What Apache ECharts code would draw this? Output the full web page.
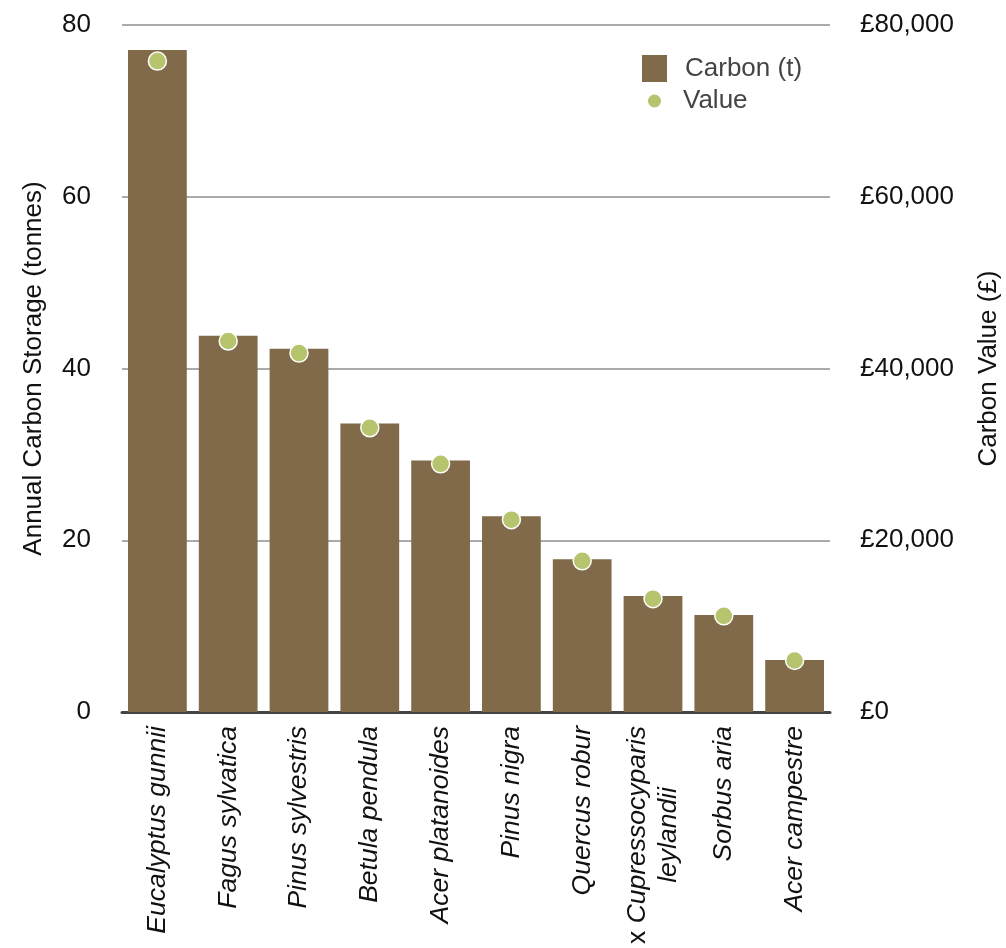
<!DOCTYPE html>
<html>
<head>
<meta charset="utf-8">
<script src="https://cdn.jsdelivr.net/npm/echarts@6/dist/echarts.min.js"></script>
<style>
  html, body { margin: 0; padding: 0; background: #fff; }
  #chart { width: 1006px; height: 948px; }
</style>
</head>
<body>
<div id="chart"></div>
<script>
// Tree species, annual carbon storage (tonnes) and its value (£)
const species = [
  'Eucalyptus gunnii', 'Fagus sylvatica', 'Pinus sylvestris', 'Betula pendula',
  'Acer platanoides', 'Pinus nigra', 'Quercus robur', 'x Cupressocyparis leylandii',
  'Sorbus aria', 'Acer campestre'
];
const carbonTonnes = [77.1, 43.8, 42.3, 33.6, 29.3, 22.8, 17.8, 13.5, 11.3, 6.05];
const carbonValue = [75800, 43200, 41800, 33100, 28900, 22400, 17600, 13200, 11200, 6000];
const leftTicks = [0, 20, 40, 60, 80];
const rightTicks = [0, 20000, 40000, 60000, 80000];

const FONT = "'Liberation Sans', Arial, Helvetica, sans-serif";
const BAR_COLOR = '#806a4a';
const DOT_COLOR = '#b5c46d';
const FS = 26;
const CAT_FS = 26.5;

function money(v) {
  return '£' + String(v).replace(/\B(?=(\d{3})+(?!\d))/g, ',');
}

const chart = echarts.init(document.getElementById('chart'), null, { renderer: 'canvas' });

chart.setOption({
  backgroundColor: '#ffffff',
  animation: false,
  textStyle: { fontFamily: FONT },
  grid: { left: 122, right: 176, top: 25, bottom: 236, containLabel: false, outerBoundsMode: 'none' },
  legend: [
    {
      data: [{ name: 'Carbon (t)', icon: 'rect' }],
      left: 642, top: 55, padding: 0,
      itemWidth: 25, itemHeight: 27,
      selectedMode: false,
      textStyle: { fontFamily: FONT, fontSize: FS, color: '#444', padding: [0, 0, 0, 13] }
    },
    {
      data: [{ name: 'Value', icon: 'circle' }],
      left: 648, top: 88, padding: 0,
      itemWidth: 13, itemHeight: 13,
      selectedMode: false,
      itemStyle: { borderWidth: 0 },
      textStyle: { fontFamily: FONT, fontSize: FS, color: '#444', padding: [0, 0, 0, 17] }
    }
  ],
  xAxis: {
    type: 'category',
    data: species,
    axisTick: { show: false },
    axisLine: { show: true, lineStyle: { color: '#444', width: 3 } },
    axisLabel: {
      rotate: 90,
      margin: 14,
      interval: 0,
      fontFamily: FONT,
      fontSize: CAT_FS,
      fontStyle: 'italic',
      color: '#111',
      lineHeight: 31,
      formatter: function (name) {
        if (name.indexOf('x ') === 0) {
          const parts = name.slice(2).split(' ');
          return '{n|x }{i|' + parts[0] + '}\n{c|' + parts.slice(1).join(' ') + '}';
        }
        return name;
      },
      rich: {
        n: { fontFamily: FONT, fontSize: CAT_FS, fontStyle: 'normal', color: '#111', lineHeight: 31 },
        i: { fontFamily: FONT, fontSize: CAT_FS, fontStyle: 'italic', color: '#111', lineHeight: 31 },
        c: { fontFamily: FONT, fontSize: CAT_FS, fontStyle: 'italic', color: '#111', lineHeight: 31, align: 'center' }
      }
    }
  },
  yAxis: [
    {
      type: 'value',
      min: leftTicks[0], max: leftTicks[leftTicks.length - 1], interval: leftTicks[1] - leftTicks[0],
      name: 'Annual Carbon Storage (tonnes)',
      nameLocation: 'middle',
      nameRotate: 90,
      nameGap: 75,
      nameTextStyle: { fontFamily: FONT, fontSize: FS, color: '#111' },
      axisLine: { show: false },
      axisTick: { show: false },
      axisLabel: { margin: 31, fontFamily: FONT, fontSize: FS, color: '#111' },
      splitLine: { show: true, lineStyle: { color: '#aaaaaa', width: 2 } }
    },
    {
      type: 'value',
      position: 'right',
      min: rightTicks[0], max: rightTicks[rightTicks.length - 1], interval: rightTicks[1] - rightTicks[0],
      name: 'Carbon Value (£)',
      nameLocation: 'middle',
      nameRotate: 90,
      nameGap: 146,
      nameTextStyle: { fontFamily: FONT, fontSize: FS, color: '#111' },
      axisLine: { show: false },
      axisTick: { show: false },
      axisLabel: { margin: 30, fontFamily: FONT, fontSize: FS, color: '#111', formatter: money },
      splitLine: { show: false }
    }
  ],
  series: [
    {
      name: 'Carbon (t)',
      type: 'bar',
      yAxisIndex: 0,
      data: carbonTonnes,
      barCategoryGap: '17%',
      itemStyle: { color: BAR_COLOR },
      z: 2
    },
    {
      name: 'Value',
      type: 'scatter',
      yAxisIndex: 1,
      data: carbonValue,
      symbol: 'circle',
      symbolSize: 18,
      itemStyle: { color: DOT_COLOR, borderColor: '#ffffff', borderWidth: 1.5, opacity: 1 },
      z: 5
    }
  ]
});
</script>
</body>
</html>
